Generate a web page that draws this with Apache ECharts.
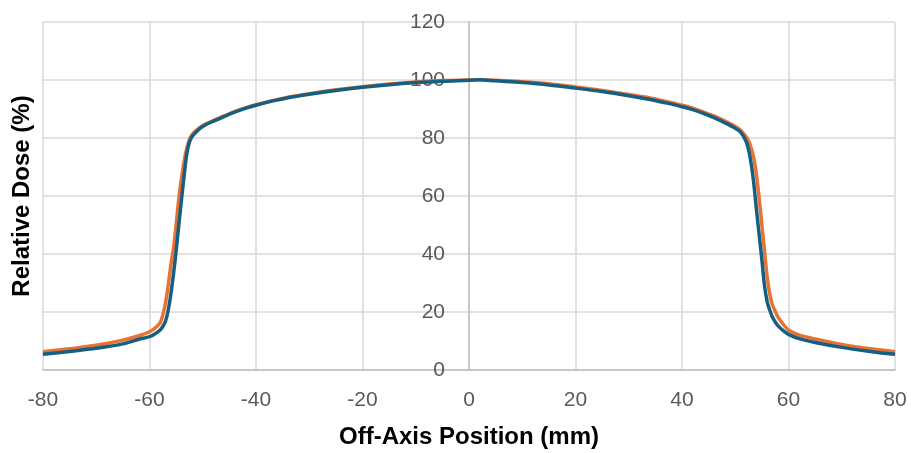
<!DOCTYPE html>
<html>
<head>
<meta charset="utf-8">
<script src="https://cdn.jsdelivr.net/npm/echarts@6/dist/echarts.min.js"></script>
<style>
  html, body { margin: 0; padding: 0; background: #fff; }
  #chart { width: 911px; height: 453px; }
</style>
</head>
<body>
<div id="chart"></div>
<script>
// off-axis positions (mm), shared by both profiles
const positions = [-80, -75, -70, -65, -62, -60, -59, -58, -57.5, -57, -56.5, -56, -55.5, -55, -54.5, -54,
  -53.5, -53, -52.5, -52, -51, -50, -48, -46, -44, -42, -40, -37, -34, -30, -25, -20, -15, -10, -5,
  0, 2, 5, 10, 15, 20, 25, 30, 34, 37, 40, 42, 44, 46, 48, 50, 51, 52, 52.5, 53, 53.5, 54, 54.5,
  55, 55.5, 56, 56.5, 57, 57.5, 58, 59, 60, 62, 65, 70, 75, 80]

// orange profile (relative dose %)
const doseOrange = [6.3, 7.3, 8.5, 10.3, 11.8, 13.2, 14.4, 16.3, 19, 23, 29, 36, 42, 50, 59, 66,
  72, 76.5, 79.5, 81.2, 83, 84.3, 86, 87.6, 89.1, 90.4, 91.5, 92.9, 94.1, 95.3, 96.6, 97.7, 98.6, 99.3, 99.8,
  100, 100.1, 99.9, 99.4, 98.7, 97.6, 96.4, 95, 93.8, 92.6, 91.3, 90.3, 89, 87.6, 85.9, 84, 82.7, 80.5, 79, 76.5, 73, 67, 59,
  50, 41, 32, 26, 22.3, 20.3, 18.3, 15.8, 13.8, 12, 10.7, 8.8, 7.4, 6.3]

// blue profile (relative dose %)
const doseBlue = [5.4, 6.4, 7.5, 9.0, 10.6, 11.5, 12.4, 13.8, 15.0, 16.8, 20.5, 26, 33, 41, 50, 58.6,
  67, 74.5, 78.5, 80.5, 82.5, 84, 85.8, 87.4, 88.9, 90.2, 91.3, 92.7, 93.9, 95.1, 96.4, 97.5, 98.4, 99.1, 99.6,
  99.9, 100.1, 99.7, 99.1, 98.3, 97.2, 96, 94.6, 93.3, 92.1, 90.8, 89.8, 88.5, 87, 85.3, 83.4, 82, 79, 76, 71, 64, 55, 46.5,
  38, 29, 23.5, 20.5, 18.2, 16.6, 15.3, 13.6, 12.3, 10.8, 9.5, 7.8, 6.5, 5.4]

const xTitle = 'Off-Axis Position (mm)'
const yTitle = 'Relative Dose (%)'

const font = '"Liberation Sans", Arial, sans-serif'

// plot area in px
const gridLeft = 43
const gridRight = 16
const plotWidth = 911 - gridLeft - gridRight

const chart = echarts.init(document.getElementById('chart'))

const toPairs = (xs, ys) => xs.map((x, i) => [x, ys[i]])

const option = {
  animation: false,
  grid: {
    left: gridLeft,
    right: gridRight,
    top: 22,
    bottom: 83,
    containLabel: false,
    outerBoundsMode: 'none'
  },
  xAxis: {
    type: 'value',
    min: -80,
    max: 80,
    interval: 20,
    name: xTitle,
    nameLocation: 'middle',
    nameGap: 55,
    nameTextStyle: {
      fontFamily: font,
      fontSize: 24,
      fontWeight: 'bold',
      color: '#000'
    },
    axisLine: { show: true, lineStyle: { color: '#bfbfbf', width: 1.5 } },
    axisTick: { show: false },
    axisLabel: {
      fontFamily: font,
      fontSize: 21,
      color: '#595959',
      margin: 20
    },
    splitLine: { show: true, lineStyle: { color: '#d9d9d9', width: 1.5 } }
  },
  yAxis: {
    type: 'value',
    min: 0,
    max: 120,
    interval: 20,
    // move the whole axis (line + labels) to x = 0
    offset: -plotWidth / 2,
    axisLine: { show: true, onZero: false, lineStyle: { color: '#bfbfbf', width: 1.5 } },
    axisTick: { show: false },
    axisLabel: {
      fontFamily: font,
      fontSize: 21,
      color: '#595959',
      margin: 24
    },
    splitLine: { show: true, lineStyle: { color: '#d9d9d9', width: 1.5 } }
  },
  graphic: [{
    type: 'text',
    x: 22,
    y: 196,
    rotation: Math.PI / 2,
    style: {
      text: yTitle,
      fontFamily: font,
      fontSize: 24,
      fontWeight: 'bold',
      fill: '#000',
      textAlign: 'center',
      textVerticalAlign: 'middle'
    }
  }],
  series: [
    {
      name: 'Orange',
      type: 'line',
      data: toPairs(positions, doseOrange),
      showSymbol: false,
      smooth: 0.3,
      lineStyle: { color: '#E97132', width: 3.5 },
      itemStyle: { color: '#E97132' }
    },
    {
      name: 'Blue',
      type: 'line',
      data: toPairs(positions, doseBlue),
      showSymbol: false,
      smooth: 0.3,
      lineStyle: { color: '#156082', width: 3.5 },
      itemStyle: { color: '#156082' }
    }
  ]
}

chart.setOption(option)
</script>
</body>
</html>
